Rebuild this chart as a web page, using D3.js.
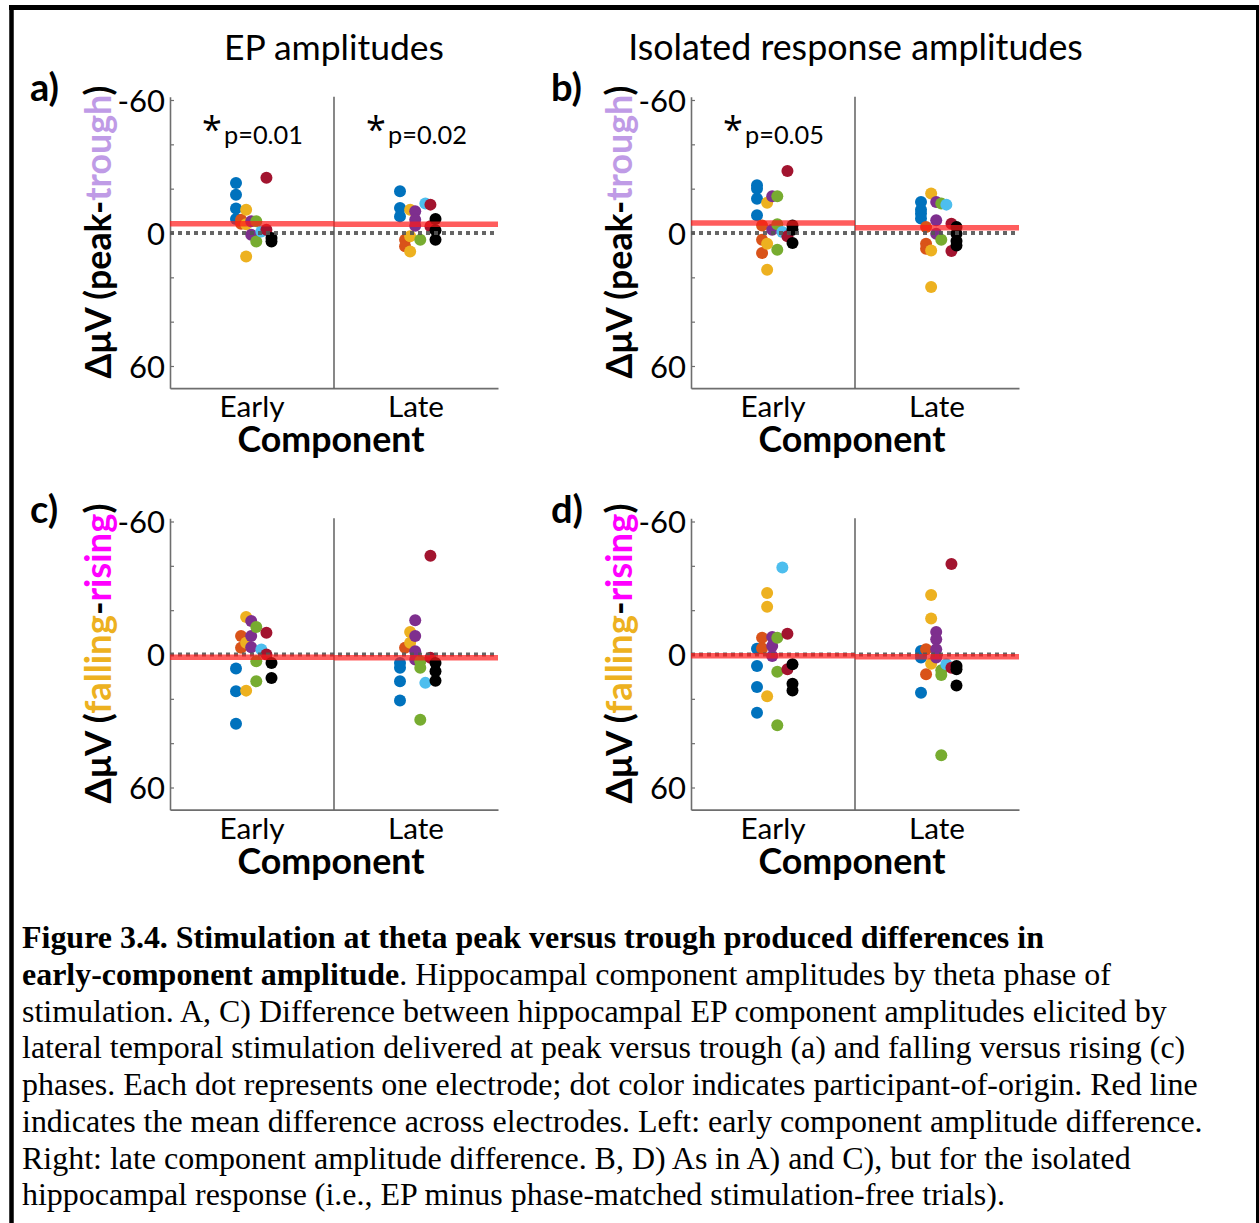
<!DOCTYPE html>
<html><head><meta charset="utf-8">
<script src="https://cdn.jsdelivr.net/npm/d3@7"></script>
<style>
html,body{margin:0;padding:0;background:#fff;}
svg{display:block;}
</style></head><body>
<svg id="fig" width="1259" height="1223"></svg>
<script>
// Participants (one colour each) and components
const participants = ["P1","P2","P3","P4","P5","P6","P7","P8"];
const participantColors = ["#0072BD","#D95319","#EDB120","#7E2F8E","#77AC30","#4DBEEE","#A2142F","#000000"];
const components = ["Early","Late"];
const yTickValues = [-60,-40,-20,0,20,40,60];
const yTickLabels = ["-60","","","0","","","60"];

// Electrode differences: [participant index, ΔμV]
const epPeakTroughEarly = [[0,-22.6],[0,-17.3],[0,-11.0],[0,-6.3],[1,-6.0],[1,-4.2],[2,-10.5],[2,-4.0],[2,10.6],
  [3,-5.3],[3,0.8],[4,-5.3],[4,3.8],[5,-0.7],[6,-24.9],[6,-1.5],[7,2.3],[7,3.8]];
const epPeakTroughLate = [[0,-18.8],[0,-11.3],[0,-7.5],[1,3.0],[1,6.0],[2,-10.5],[2,1.5],[2,8.3],
  [3,-9.8],[3,-6.0],[3,-3.3],[4,3.0],[5,-13.3],[6,-12.8],[6,-3.0],[7,-6.3],[7,-1.2],[7,3.0]];
const isoPeakTroughEarly = [[0,-21.5],[0,-20.0],[0,-15.5],[0,-8.0],[1,-3.4],[1,3.0],[1,9.0],[2,-13.6],[2,4.8],[2,16.6],
  [3,-16.6],[3,-1.5],[4,-16.6],[4,-3.9],[4,7.6],[5,-0.5],[6,-28.0],[6,1.5],[7,-3.4],[7,-1.5],[7,4.5]];
const isoPeakTroughLate = [[0,-14.0],[0,-10.5],[0,-8.8],[0,-6.5],[1,-2.7],[1,4.8],[1,7.1],[2,-17.8],[2,7.9],[2,24.4],
  [3,-14.0],[3,-5.7],[3,0.3],[4,-13.3],[4,3.0],[5,-12.8],[6,-4.2],[6,8.1],[7,-2.7],[7,0.3],[7,3.6],[7,5.6]];
const epFallRiseEarly = [[0,6.3],[0,16.6],[0,31.2],[1,-8.3],[1,-3.0],[2,-16.9],[2,-5.3],[2,16.3],
  [3,-15.1],[3,-8.3],[3,-3.3],[4,-12.4],[4,3.0],[4,12.1],[5,-2.3],[6,-9.8],[6,0.0],[7,3.8],[7,10.6]];
const epFallRiseLate = [[0,3.8],[0,6.0],[0,12.1],[0,20.8],[1,-3.0],[2,-10.2],[2,-5.3],[3,-15.4],[3,-8.3],[3,-1.5],[3,2.3],
  [4,3.0],[4,6.0],[4,29.4],[5,12.8],[6,-44.5],[6,1.5],[7,3.8],[7,7.6],[7,11.8]];
const isoFallRiseEarly = [[0,-2.6],[0,5.2],[0,14.7],[0,26.3],[1,-7.6],[1,-2.8],[2,-27.7],[2,-21.5],[2,18.8],
  [3,-7.9],[3,-3.8],[3,0.7],[4,-7.6],[4,7.8],[4,31.9],[5,-39.2],[6,-9.4],[6,6.7],[7,4.4],[7,13.2],[7,16.2]];
const isoFallRiseLate = [[0,-1.6],[0,1.4],[0,17.3],[1,-2.4],[1,8.9],[2,-26.8],[2,-16.2],[2,4.2],
  [3,-10.2],[3,-6.9],[3,-2.4],[3,1.4],[4,7.1],[4,9.2],[4,45.4],[5,4.4],[6,-40.8],[6,6.0],[7,5.2],[7,6.7],[7,14.0]];

// Mean difference across electrodes (red lines), [Early, Late]
const epPeakTroughMeans = [-4.2, -3.9];
const isoPeakTroughMeans = [-4.5, -2.4];
const epFallRiseMeans = [1.2, 1.5];
const isoFallRiseMeans = [0.6, 1.0];

// Significance annotations, [Early, Late]
const epPeakTroughP = ["p=0.01", "p=0.02"];
const isoPeakTroughP = ["p=0.05", null];

const columnTitles = ["EP amplitudes", "Isolated response amplitudes"];
const peakTroughLabel = [["ΔμV (peak-", "#000"], ["trough", "#BF9BE6"], [")", "#000"]];
const fallRiseLabel = [["ΔμV (", "#000"], ["falling", "#EDB120"], ["-", "#000"], ["rising", "#FF00FF"], [")", "#000"]];

const captionLines = [
  [["Figure 3.4. Stimulation at theta peak versus trough produced differences in", true]],
  [["early-component amplitude", true], [". Hippocampal component amplitudes by theta phase of", false]],
  [["stimulation. A, C) Difference between hippocampal EP component amplitudes elicited by", false]],
  [["lateral temporal stimulation delivered at peak versus trough (a) and falling versus rising (c)", false]],
  [["phases. Each dot represents one electrode; dot color indicates participant-of-origin. Red line", false]],
  [["indicates the mean difference across electrodes. Left: early component amplitude difference.", false]],
  [["Right: late component amplitude difference. B, D) As in A) and C), but for the isolated", false]],
  [["hippocampal response (i.e., EP minus phase-matched stimulation-free trials).", false]]
];

const SANS = "Lato, 'Open Sans', sans-serif";
const svg = d3.select("#fig");

function fitWidth(sel, w) {
  const len = sel.node().getComputedTextLength();
  const fs = parseFloat(sel.attr("font-size"));
  sel.attr("font-size", fs * w / len);
  return sel;
}

// Frame around the figure
svg.append("line").attr("x1", 9).attr("x2", 1259).attr("y1", 7.5).attr("y2", 7.5)
  .attr("stroke", "#000").attr("stroke-width", 5);
svg.append("line").attr("x1", 11.5).attr("x2", 11.5).attr("y1", 5).attr("y2", 1223)
  .attr("stroke", "#000").attr("stroke-width", 4.5);
svg.append("line").attr("x1", 1257.5).attr("x2", 1257.5).attr("y1", 5).attr("y2", 1223)
  .attr("stroke", "#000").attr("stroke-width", 3);

const panels = [
  { tag: "a)", left: 170, top: 100, data: [epPeakTroughEarly, epPeakTroughLate], means: epPeakTroughMeans, p: epPeakTroughP, label: peakTroughLabel, labelLen: 293 },
  { tag: "b)", left: 691, top: 100, data: [isoPeakTroughEarly, isoPeakTroughLate], means: isoPeakTroughMeans, p: isoPeakTroughP, label: peakTroughLabel, labelLen: 293 },
  { tag: "c)", left: 170, top: 521.5, data: [epFallRiseEarly, epFallRiseLate], means: epFallRiseMeans, p: [null, null], label: fallRiseLabel, labelLen: 300 },
  { tag: "d)", left: 691, top: 521.5, data: [isoFallRiseEarly, isoFallRiseLate], means: isoFallRiseMeans, p: [null, null], label: fallRiseLabel, labelLen: 300 }
];

const plotW = 328;
const span = 266; // -60 .. 60
const offset = d3.scalePoint().domain(participants).range([-16, 19.5]);
const catWidths = { Early: 65, Late: 56 };

panels.forEach(pn => {
  const g = svg.append("g");
  const y = d3.scaleLinear().domain([-60, 60]).range([pn.top, pn.top + span]);
  const yAx = y.copy().domain([-61.5, 70]).range([y(-61.5), y(70)]);
  const x = d3.scaleBand().domain(components).range([pn.left, pn.left + plotW]);
  const cx = c => x(c) + x.bandwidth() / 2;

  // y axis with inward ticks
  const ya = g.append("g").attr("transform", `translate(${pn.left},0)`)
    .call(d3.axisLeft(yAx).tickValues(yTickValues)
      .tickFormat((d, i) => yTickLabels[i]).tickSizeInner(-4).tickSizeOuter(0).tickPadding(5));
  ya.select(".domain").attr("stroke", "#6e6e6e").attr("stroke-width", 1.6);
  ya.selectAll(".tick line").attr("stroke", "#6e6e6e").attr("stroke-width", 1.2);
  ya.selectAll(".tick text").attr("font-family", SANS).attr("font-size", 31).attr("fill", "#000")
    .attr("dy", "0.37em");

  // x axis (category names only)
  const xa = g.append("g").attr("transform", `translate(0,${y(70)})`)
    .call(d3.axisBottom(x).tickSize(0).tickPadding(8));
  xa.select(".domain").attr("stroke", "#6e6e6e").attr("stroke-width", 1.6);
  xa.selectAll(".tick text").attr("font-family", SANS).attr("font-size", 31).attr("fill", "#000")
    .each(function(d) { fitWidth(d3.select(this), catWidths[d]); });

  // divider between components
  g.append("line").attr("x1", x("Late")).attr("x2", x("Late"))
    .attr("y1", y(-61.5)).attr("y2", y(70)).attr("stroke", "#555").attr("stroke-width", 1.4);

  // electrode dots
  components.forEach((c, ci) => {
    g.append("g").selectAll("circle").data(pn.data[ci]).join("circle")
      .attr("cx", d => cx(c) + offset(participants[d[0]]))
      .attr("cy", d => y(d[1]))
      .attr("r", 6)
      .attr("fill", d => participantColors[d[0]]);
  });

  // zero reference
  g.append("line").attr("x1", pn.left).attr("x2", pn.left + plotW)
    .attr("y1", y(0)).attr("y2", y(0))
    .attr("stroke", "#555").attr("stroke-width", 4).attr("stroke-dasharray", "4,4").attr("opacity", 0.9);

  // mean lines
  components.forEach((c, ci) => {
    g.append("line").attr("x1", x(c)).attr("x2", x(c) + x.bandwidth())
      .attr("y1", y(pn.means[ci])).attr("y2", y(pn.means[ci]))
      .attr("stroke", "#ff1a1a").attr("stroke-width", 5.5).attr("opacity", 0.7);
  });

  // significance marks
  components.forEach((c, ci) => {
    if (!pn.p[ci]) return;
    g.append("text").attr("x", cx(c) - 40).attr("y", pn.top + 42)
      .attr("text-anchor", "middle").attr("font-family", "'Open Sans', sans-serif")
      .attr("font-size", 36).text("*");
    const pt = g.append("text").attr("x", cx(c) - 28).attr("y", pn.top + 44)
      .attr("font-family", SANS).attr("font-size", 25).text(pn.p[ci]);
    fitWidth(pt, 79);
  });

  // x axis title
  const ct = g.append("text").attr("x", pn.left + plotW / 2 - 3).attr("y", y(70) + 64)
    .attr("text-anchor", "middle").attr("font-family", SANS).attr("font-weight", "bold")
    .attr("font-size", 34).text("Component");
  fitWidth(ct, 187);

  // y axis title
  const yl = g.append("text")
    .attr("transform", `translate(${pn.left - 59},${y(0) - 1}) rotate(-90)`)
    .attr("text-anchor", "middle").attr("font-family", SANS).attr("font-weight", "bold")
    .attr("font-size", 34);
  pn.label.forEach(([t, col]) => yl.append("tspan").attr("fill", col).text(t));
  fitWidth(yl, pn.labelLen);

  // panel tag
  g.append("text").attr("x", pn.left - 140).attr("y", pn.top + 1)
    .attr("font-family", SANS).attr("font-weight", "bold").attr("font-size", 38).text(pn.tag);
});

// column titles
[[334, columnTitles[0], 220], [855.5, columnTitles[1], 455]].forEach(([cx, t, w]) => {
  const s = svg.append("text").attr("x", cx).attr("y", 60).attr("text-anchor", "middle")
    .attr("font-family", SANS).attr("font-size", 32).text(t);
  fitWidth(s, w);
});

// caption
const cap = svg.append("g").attr("font-family", "'Liberation Serif', 'Times New Roman', serif").attr("fill", "#000");
const lines = captionLines.map((parts, i) => {
  const t = cap.append("text").attr("x", 22).attr("y", 948.3 + i * 36.7).attr("font-size", 27);
  parts.forEach(([s, b]) => t.append("tspan").attr("font-weight", b ? "bold" : "normal").text(s));
  return t;
});
const ref = lines[5].node().getComputedTextLength();
const capSize = 27 * 1181 / ref;
lines.forEach(t => t.attr("font-size", capSize));
</script>
</body></html>
